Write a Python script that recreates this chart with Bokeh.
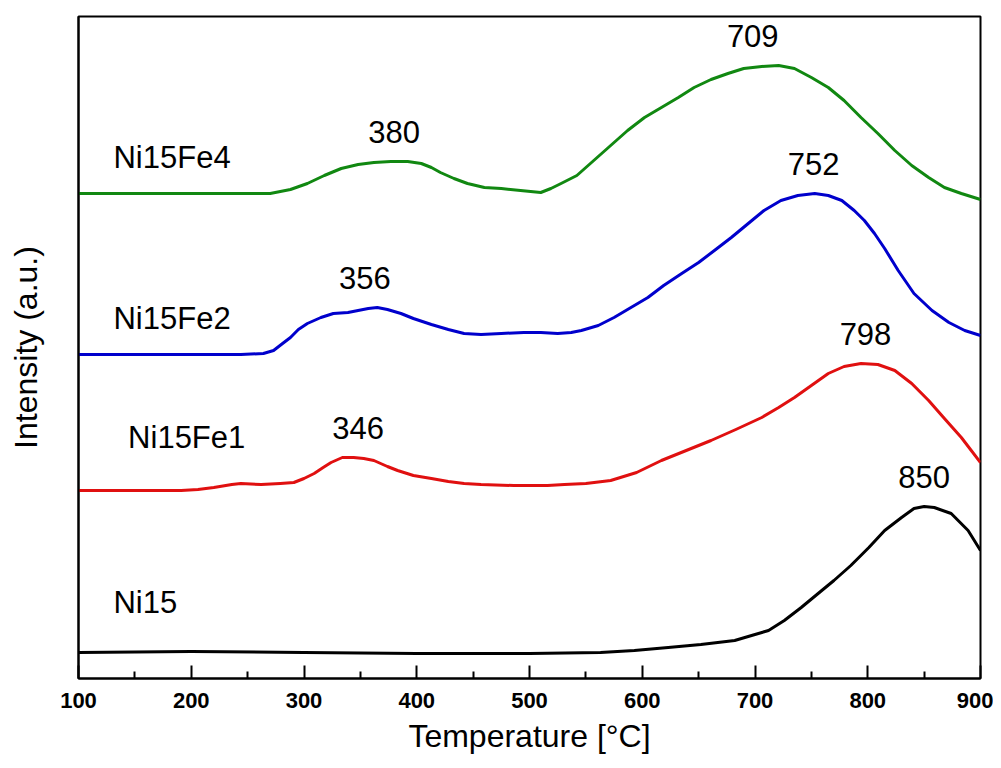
from bokeh.plotting import figure
from bokeh.models import Range1d, FixedTicker, ColumnDataSource
from bokeh.core.properties import value
from bokeh.embed import file_html
from bokeh.resources import INLINE

# ---- data (temperature in °C, intensity in a.u.) ----
t_ni15 = [100, 200, 300, 400, 500, 563, 593, 623, 652, 682, 697, 712, 726, 741, 756, 770, 785,
          801, 815, 830, 841, 850, 859, 874, 889, 900]
i_ni15 = [26, 27, 26, 25, 25, 26, 28, 31, 34, 38, 43, 48, 58, 71, 85, 98, 113,
          131, 148, 161, 170, 172, 171, 165, 148, 128]

t_fe1 = [100, 191, 206, 220, 236, 244, 262, 279, 291, 300, 309, 317, 324, 334, 344, 353, 362,
         374, 383, 397, 413, 428, 442, 457, 486, 516, 531, 550, 572, 595, 617, 639, 661, 683,
         706, 721, 735, 750, 765, 779, 794, 809, 824, 839, 854, 868, 883, 900]
i_fe1 = [188, 188, 189, 191, 194, 195, 194, 195, 196, 200, 205, 211, 216, 221, 221, 220, 218,
         212, 208, 203, 200, 197, 195, 194, 193, 193, 194, 195, 198, 206, 218, 228, 238, 249,
         261, 271, 281, 293, 305, 312, 315, 314, 308, 295, 278, 260, 241, 216]

t_fe2 = [100, 200, 244, 264, 273, 281, 288, 295, 303, 315, 326, 339, 348, 357, 365, 374, 386,
         397, 413, 428, 442, 457, 475, 495, 510, 525, 537, 546, 561, 575, 590, 605, 619, 635,
         650, 664, 679, 694, 708, 723, 738, 753, 765, 777, 788, 797, 806, 815, 827, 841, 857,
         872, 886, 900]
i_fe2 = [324, 324, 324, 325, 328, 335, 341, 349, 355, 361, 365, 366, 368, 370, 371, 369, 365,
         360, 354, 349, 345, 344, 345, 346, 346, 345, 346, 348, 353, 361, 371, 381, 393, 405,
         416, 428, 441, 455, 468, 478, 483, 485, 483, 478, 468, 458, 445, 430, 408, 385, 368,
         356, 348, 343]

t_fe4 = [100, 200, 244, 270, 288, 303, 318, 333, 348, 362, 377, 392, 404, 413, 421, 433, 445,
         460, 475, 492, 510, 519, 528, 542, 557, 572, 587, 602, 617, 632, 646, 661, 676, 690,
         706, 721, 735, 750, 765, 779, 794, 809, 824, 839, 854, 868, 883, 900]
i_fe4 = [485, 485, 485, 485, 489, 495, 503, 510, 514, 516, 517, 517, 515, 511, 506, 500, 495,
         491, 490, 488, 486, 490, 495, 503, 518, 533, 548, 561, 571, 581, 591, 599, 605, 610,
         612, 613, 610, 601, 591, 578, 561, 545, 528, 513, 501, 491, 485, 479]

series_names = ["Ni15", "Ni15Fe1", "Ni15Fe2", "Ni15Fe4"]
series_colors = ["#000000", "#e01010", "#0000cc", "#118811"]

# peak annotations: label text and the peak (temperature, intensity) it sits above
peak_labels = ["850", "798", "752", "709", "346", "356", "380"]
peak_t = [850, 798, 752, 698, 348, 354, 380]
peak_i = [172, 315, 485, 613, 221, 371, 517]

x_ticks = [100, 200, 300, 400, 500, 600, 700, 800, 900]
x_minor = [150, 250, 350, 450, 550, 650, 750, 850]

# ---- figure ----
W, H = 993, 760
p = figure(width=W, height=H, output_backend="svg", toolbar_location=None,
           x_range=Range1d(100, 900), y_range=Range1d(0, 662),
           min_border_left=78, min_border_right=13, min_border_top=16, min_border_bottom=82)
p.background_fill_color = "white"
p.border_fill_color = "white"
p.grid.visible = False
p.outline_line_color = "black"
p.outline_line_width = 2

xs = [t_ni15, t_fe1, t_fe2, t_fe4]
ys = [i_ni15, i_fe1, i_fe2, i_fe4]
for x, y, c in zip(xs, ys, series_colors):
    p.line(x, y, line_color=c, line_width=3, line_join="round")

FONT = value("Liberation Sans")

# sample names
name_src = ColumnDataSource(dict(
    x=[131, 144, 131, 131],
    y=[76, 241, 360, 521],
    text=series_names,
))
p.text(x="x", y="y", text="text", source=name_src, text_font=FONT,
       text_font_size="31px", text_align="left", text_baseline="middle", text_color="black")

# peak labels, placed just above each peak
lab_y = [v + 30 for v in peak_i]
peak_src = ColumnDataSource(dict(x=peak_t, y=lab_y, text=peak_labels))
p.text(x="x", y="y", text="text", source=peak_src, text_font=FONT,
       text_font_size="31px", text_align="center", text_baseline="middle", text_color="black")

# x axis
xa = p.xaxis[0]
xa.ticker = FixedTicker(ticks=x_ticks, minor_ticks=x_minor)
xa.major_tick_in = 13
xa.major_tick_out = 0
xa.minor_tick_in = 7
xa.minor_tick_out = 0
xa.major_tick_line_width = 2
xa.minor_tick_line_width = 2
xa.axis_line_width = 2
xa.major_label_text_font = "Liberation Sans"
xa.major_label_text_font_style = "bold"
xa.major_label_text_font_size = "22px"
xa.major_label_text_color = "black"
xa.major_label_standoff = 14
xa.axis_label = "Temperature [°C]"
xa.axis_label_text_font = "Liberation Sans"
xa.axis_label_text_font_style = "normal"
xa.axis_label_text_font_size = "32px"
xa.axis_label_text_color = "black"
xa.axis_label_standoff = 7

# y axis
ya = p.yaxis[0]
ya.ticker = FixedTicker(ticks=[])
ya.major_tick_in = 0
ya.major_tick_out = 0
ya.minor_tick_in = 0
ya.minor_tick_out = 0
ya.axis_line_width = 2
ya.axis_label = "Intensity (a.u.)"
ya.axis_label_text_font = "Liberation Sans"
ya.axis_label_text_font_style = "normal"
ya.axis_label_text_font_size = "32px"
ya.axis_label_text_color = "black"
ya.axis_label_standoff = 35

open("out.html", "w").write(file_html(p, INLINE))
